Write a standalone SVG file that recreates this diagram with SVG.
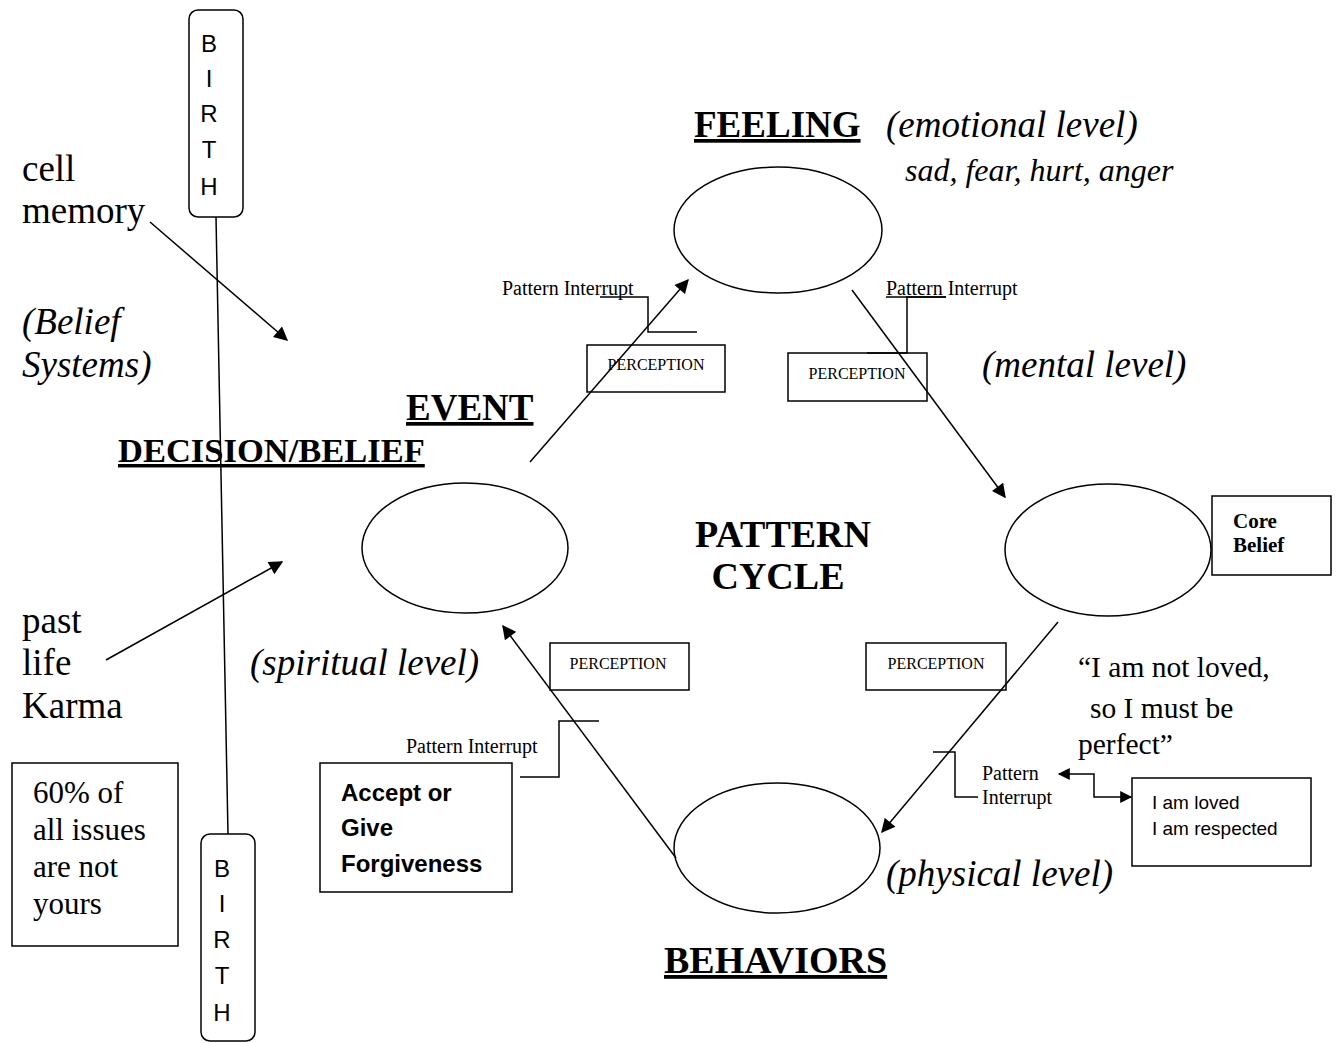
<svg xmlns="http://www.w3.org/2000/svg" width="1336" height="1043" viewBox="0 0 1336 1043">
<defs>
<marker id="ah" viewBox="0 0 10 10" refX="9" refY="5" markerWidth="15" markerHeight="14" markerUnits="userSpaceOnUse" orient="auto-start-reverse">
<path d="M0,0 L10,5 L0,10 z" fill="#000"/>
</marker>
<marker id="ahs" viewBox="0 0 10 10" refX="9" refY="5" markerWidth="13" markerHeight="12" markerUnits="userSpaceOnUse" orient="auto-start-reverse">
<path d="M0,0 L10,5 L0,10 z" fill="#000"/>
</marker>
</defs>
<style>
.s{font-family:"Liberation Serif","Times New Roman",serif;fill:#000}
.sans{font-family:"Liberation Sans",Arial,sans-serif;fill:#000}
.big{font-size:37px}
.it{font-style:italic}
.bold{font-weight:bold}
.u{text-decoration:underline}
.box{fill:#fff;stroke:#000;stroke-width:1.5}
.ell{fill:none;stroke:#000;stroke-width:1.5}
.ln{fill:none;stroke:#000;stroke-width:1.5}
.pi{font-size:20px}
.perc{font-size:16px}
</style>
<rect width="1336" height="1043" fill="#fff"/>

<g id="birth-top">
<rect class="box" x="189" y="10" width="54" height="207" rx="9"/>
<text class="sans" font-size="24" text-anchor="middle"><tspan x="209" y="52">B</tspan><tspan x="209" y="87">I</tspan><tspan x="209" y="122">R</tspan><tspan x="209" y="158">T</tspan><tspan x="209" y="195">H</tspan></text>
</g>
<g id="birth-bottom">
<rect class="box" x="201" y="834" width="54" height="207" rx="9"/>
<text class="sans" font-size="24" text-anchor="middle"><tspan x="222" y="877">B</tspan><tspan x="222" y="912">I</tspan><tspan x="222" y="948">R</tspan><tspan x="222" y="984">T</tspan><tspan x="222" y="1021">H</tspan></text>
</g>

<g id="cell-memory"><text class="s big"><tspan x="22" y="181">cell</tspan><tspan x="22" y="223">memory</tspan></text></g>
<g id="belief-systems"><text class="s big it"><tspan x="22" y="334">(Belief</tspan><tspan x="22" y="377">Systems)</tspan></text></g>
<g id="past-life"><text class="s big"><tspan x="22" y="633">past</tspan><tspan x="22" y="675">life</tspan><tspan x="22" y="718">Karma</tspan></text></g>

<g id="sixty">
<rect class="box" x="12" y="763" width="166" height="183"/>
<text class="s" font-size="31"><tspan x="33" y="803">60% of</tspan><tspan x="33" y="840">all issues</tspan><tspan x="33" y="877">are not</tspan><tspan x="33" y="914">yours</tspan></text>
</g>

<g id="event">
<ellipse class="ell" cx="465" cy="548" rx="103" ry="65"/>
<text class="s bold u" font-size="37" x="406" y="420">EVENT</text>
<text class="s bold u" font-size="34.5" x="118" y="462">DECISION/BELIEF</text>
<text class="s big it" x="250" y="675">(spiritual level)</text>
</g>

<g id="feeling">
<ellipse class="ell" cx="778" cy="230" rx="104" ry="63"/>
<text class="s bold u" font-size="37" x="694" y="137">FEELING</text>
<text class="s big it" x="886" y="137">(emotional level)</text>
<text class="s it" font-size="32" x="905" y="181">sad, fear, hurt, anger</text>
</g>

<g id="mental">
<ellipse class="ell" cx="1108" cy="550" rx="103" ry="66"/>
<text class="s big it" x="982" y="377">(mental level)</text>
</g>

<g id="core-belief">
<rect class="box" x="1212" y="496" width="119" height="79"/>
<text class="s bold" font-size="21"><tspan x="1233" y="528">Core</tspan><tspan x="1233" y="552">Belief</tspan></text>
</g>

<g id="behaviors">
<ellipse class="ell" cx="777" cy="848" rx="103" ry="65"/>
<text class="s bold u" font-size="38" x="664" y="973">BEHAVIORS</text>
<text class="s big it" x="886" y="886">(physical level)</text>
</g>

<g id="center"><text class="s bold" font-size="38" text-anchor="middle"><tspan x="783" y="547">PATTERN</tspan><tspan x="778" y="589">CYCLE</tspan></text></g>

<g id="perception-1"><rect class="box" x="587" y="345" width="138" height="47"/><text class="s perc" x="656" y="370" text-anchor="middle">PERCEPTION</text></g>
<g id="perception-2"><rect class="box" x="788" y="353" width="139" height="48"/><text class="s perc" x="857" y="379" text-anchor="middle">PERCEPTION</text></g>
<g id="perception-3"><rect class="box" x="550" y="643" width="139" height="47"/><text class="s perc" x="618" y="669" text-anchor="middle">PERCEPTION</text></g>
<g id="perception-4"><rect class="box" x="866" y="643" width="140" height="47"/><text class="s perc" x="936" y="669" text-anchor="middle">PERCEPTION</text></g>

<g id="pi-1"><text class="s pi" x="502" y="295">Pattern Interrupt</text></g>
<g id="pi-2"><text class="s pi" x="886" y="295">Pattern Interrupt</text><line class="ln" x1="886" y1="297" x2="946" y2="297"/></g>
<g id="pi-3"><text class="s pi" x="406" y="753">Pattern Interrupt</text></g>
<g id="pi-4"><text class="s pi"><tspan x="982" y="780">Pattern</tspan><tspan x="982" y="804">Interrupt</tspan></text></g>

<g id="accept">
<rect class="box" x="320" y="763" width="192" height="129"/>
<text class="sans bold" font-size="24"><tspan x="341" y="801">Accept or</tspan><tspan x="341" y="836">Give</tspan><tspan x="341" y="872">Forgiveness</tspan></text>
</g>

<g id="quote"><text class="s" font-size="29.5"><tspan x="1078" y="677">“I am not loved,</tspan><tspan x="1090" y="718">so I must be</tspan><tspan x="1078" y="754">perfect”</tspan></text></g>

<g id="loved">
<rect class="box" x="1132" y="778" width="179" height="88"/>
<text class="sans" font-size="19"><tspan x="1152" y="809">I am loved</tspan><tspan x="1152" y="835">I am respected</tspan></text>
</g>

<g id="connectors">
<line class="ln" x1="216" y1="217" x2="228" y2="834"/>
<line class="ln" x1="150" y1="222" x2="287" y2="340" marker-end="url(#ah)"/>
<line class="ln" x1="106" y1="660" x2="282" y2="562" marker-end="url(#ah)"/>
<line class="ln" x1="530" y1="462" x2="688" y2="280" marker-end="url(#ah)"/>
<line class="ln" x1="852" y1="290" x2="1005" y2="497" marker-end="url(#ah)"/>
<line class="ln" x1="1058" y1="622" x2="882" y2="832" marker-end="url(#ah)"/>
<line class="ln" x1="676" y1="858" x2="503" y2="626" marker-end="url(#ah)"/>
<path class="ln" d="M600,297 H648 V332 H697"/>
<path class="ln" d="M946,297 H907 V353 H867"/>
<path class="ln" d="M520,777 H559 V721 H599"/>
<path class="ln" d="M933,752 H955 V797 H978"/>
<path class="ln" d="M1059,774 H1094 V797 H1131" marker-start="url(#ahs)" marker-end="url(#ahs)"/>
</g>
</svg>
